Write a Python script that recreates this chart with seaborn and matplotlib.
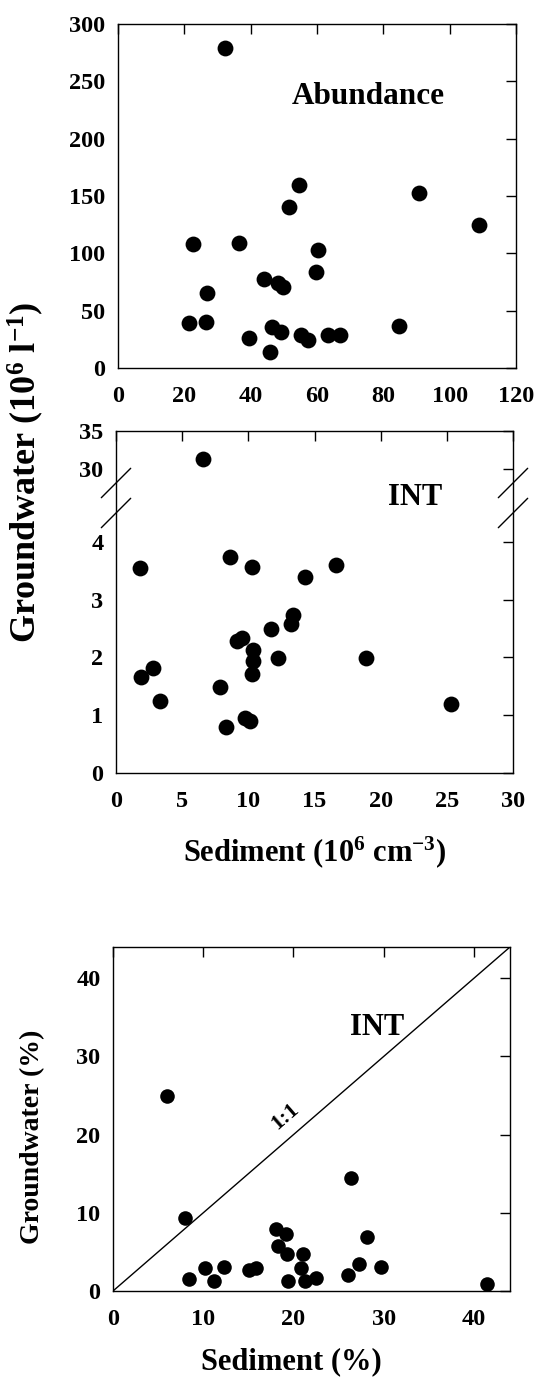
import numpy as np
import pandas as pd
import matplotlib
matplotlib.use("Agg")
import matplotlib.pyplot as plt
import seaborn as sns

sns.set_style("white")
plt.rcParams['font.family'] = ['Liberation Serif', 'DejaVu Serif']
plt.rcParams['font.weight'] = 'bold'
plt.rcParams['mathtext.fontset'] = 'custom'
plt.rcParams['mathtext.rm'] = 'Liberation Serif:bold'
plt.rcParams['mathtext.bf'] = 'Liberation Serif:bold'
plt.rcParams['mathtext.it'] = 'Liberation Serif:bold'
for k in ('text.color', 'axes.labelcolor', 'xtick.color', 'ytick.color', 'axes.edgecolor'):
    plt.rcParams[k] = 'black'

# ---- Panel 1: Abundance ----
abund_sed = [32.3, 54.6, 51.6, 90.9, 108.7, 22.6, 36.6, 60.3, 59.7, 43.9, 48.1, 49.8,
             26.9, 21.4, 26.6, 39.6, 46.5, 49.1, 45.9, 55.3, 57.2, 63.4, 66.9, 84.7]
abund_gw = [279, 160, 140, 153, 125, 108, 109, 103, 84, 78, 74, 71,
            65, 39, 40, 26, 36, 31, 14, 29, 24, 29, 29, 37]

# ---- Panel 2: INT (abundance) ----
int_sed = [6.6, 1.83, 8.63, 10.29, 16.6, 14.3, 13.4, 13.2, 11.7, 9.53, 9.13, 10.34,
           12.25, 10.39, 10.31, 18.9, 2.82, 1.91, 3.32, 7.87, 9.73, 10.16, 8.32, 25.3]
int_gw = [31.3, 3.54, 3.73, 3.56, 3.60, 3.39, 2.73, 2.58, 2.49, 2.33, 2.28, 2.13,
          1.99, 1.93, 1.72, 1.99, 1.82, 1.67, 1.25, 1.49, 0.96, 0.90, 0.80, 1.19]

# ---- Panel 3: INT (%) ----
pct_sed = [6.0, 8.0, 26.4, 18.1, 19.2, 28.1, 18.3, 19.3, 21.1, 20.8, 10.2, 12.3,
           15.1, 15.8, 27.3, 29.7, 26.0, 8.4, 11.2, 19.4, 21.3, 22.5, 41.4]
pct_gw = [24.9, 9.3, 14.4, 7.9, 7.3, 6.9, 5.8, 4.7, 4.7, 3.0, 3.0, 3.1,
          2.7, 3.0, 3.4, 3.1, 2.05, 1.5, 1.3, 1.3, 1.3, 1.7, 0.86]

top_xticks = [0, 20, 40, 60, 80, 100, 120]
top_yticks = [0, 50, 100, 150, 200, 250, 300]
mid_xticks = [0, 5, 10, 15, 20, 25, 30]
mid_yticks = [0, 1, 2, 3, 4, 30, 35]
bot_ticks = [0, 10, 20, 30, 40]

W, H = 534, 1379
fig = plt.figure(figsize=(W / 100, H / 100), dpi=100)

def axes_px(left, right, top, bottom):
    return fig.add_axes([left / W, 1 - bottom / H, (right - left) / W, (bottom - top) / H])

ax1 = axes_px(118, 516, 24, 368)
ax2 = axes_px(116, 513, 431, 773)
ax3 = axes_px(113, 510, 947, 1291)

TICK_FS = 17.5
LAB_FS = 22

def style(ax, pad_x=13, pad_y=9):
    for s in ax.spines.values():
        s.set_visible(True)
        s.set_linewidth(1.0)
        s.set_color('black')
    ax.tick_params(direction='in', length=7, width=1.0, top=True, right=True,
                   labeltop=False, labelright=False, colors='black')
    ax.tick_params(axis='x', pad=pad_x, labelsize=TICK_FS)
    ax.tick_params(axis='y', pad=pad_y, labelsize=TICK_FS)
    for lab in ax.get_xticklabels() + ax.get_yticklabels():
        lab.set_fontweight('bold')
    ax.grid(False)
    ax.set_facecolor('white')

# Panel 1
df1 = pd.DataFrame({'sed': abund_sed, 'gw': abund_gw})
sns.scatterplot(data=df1, x='sed', y='gw', ax=ax1, color='black', s=130, edgecolor='black',
                linewidth=0, legend=False, zorder=3)
ax1.set_xlim(0, 120)
ax1.set_ylim(0, 300)
ax1.set_xticks(top_xticks)
ax1.set_yticks(top_yticks)
ax1.set_xlabel('')
ax1.set_ylabel('')
style(ax1)
ax1.text(75.4, 237, 'Abundance', ha='center', va='center', fontsize=22.5, fontweight='bold')

# Panel 2: piecewise (broken) y scale
def fwd(y):
    y = np.asarray(y, dtype=float)
    return np.where(y <= 4.5, y * (260 / 4.5),
                    np.where(y <= 28.2, 260 + (y - 4.5) * (30 / 23.7),
                             290 + (y - 28.2) * (52 / 6.8)))

def inv(v):
    v = np.asarray(v, dtype=float)
    return np.where(v <= 260, v * (4.5 / 260),
                    np.where(v <= 290, 4.5 + (v - 260) * (23.7 / 30),
                             28.2 + (v - 290) * (6.8 / 52)))

df2 = pd.DataFrame({'sed': int_sed, 'gw': int_gw})
ax2.set_yscale('function', functions=(fwd, inv))
sns.scatterplot(data=df2, x='sed', y='gw', ax=ax2, color='black', s=130, edgecolor='black',
                linewidth=0, legend=False, zorder=3)
ax2.set_yscale('function', functions=(fwd, inv))
ax2.set_xlim(0, 30)
ax2.set_ylim(0, 35)
ax2.set_xticks(mid_xticks)
ax2.set_yticks(mid_yticks)
ax2.set_yticklabels([str(t) for t in mid_yticks])
ax2.set_xticks([], minor=True)
ax2.set_yticks([], minor=True)
ax2.set_xlabel('Sediment (10$^{\\mathbf{6}}$ cm$^{\\mathbf{-3}}$)', fontsize=LAB_FS,
               fontweight='bold', labelpad=16)
ax2.set_ylabel('')
style(ax2)
ax2.text(0.753, 0.807, 'INT', transform=ax2.transAxes, ha='center', va='center',
         fontsize=22, fontweight='bold')
# break marks
for yc in (260 / 342, 290 / 342):
    for xc in (0.0, 1.0):
        ax2.plot([xc - 0.037, xc + 0.037], [yc - 0.043, yc + 0.043], color='black',
                 lw=1.0, transform=ax2.transAxes, clip_on=False, zorder=5)

# Panel 3
df3 = pd.DataFrame({'sed': pct_sed, 'gw': pct_gw})
ax3.plot([0, 44], [0, 44], color='black', lw=1.0, zorder=2)
sns.scatterplot(data=df3, x='sed', y='gw', ax=ax3, color='black', s=110, edgecolor='black',
                linewidth=0, legend=False, zorder=3)
ax3.set_xlim(0, 44)
ax3.set_ylim(0, 44)
ax3.set_xticks(bot_ticks)
ax3.set_yticks(bot_ticks)
ax3.set_xlabel('Sediment (%)', fontsize=LAB_FS, fontweight='bold')
ax3.xaxis.set_label_coords((291 - 113) / 397, (1291 - 1347) / 344)
ax3.set_ylabel('Groundwater (%)', fontsize=20, fontweight='bold')
ax3.yaxis.set_label_coords((45 - 113) / 397, (1291 - 1137) / 344)
style(ax3)
ax3.text(29.3, 33.7, 'INT', ha='center', va='center', fontsize=22, fontweight='bold')
ax3.text(19.1, 22.3, '1:1', ha='center', va='center', fontsize=16, fontweight='bold',
         rotation=41, rotation_mode='anchor')

# Shared y label for top two panels
fig.text(26 / W, 1 - 472 / H, 'Groundwater (10$^{\\mathbf{6}}$ l$^{\\mathbf{-1}}$)',
         rotation=90, ha='center', va='center', fontsize=26, fontweight='bold')

fig.savefig('out.png', dpi=100, facecolor='white')
